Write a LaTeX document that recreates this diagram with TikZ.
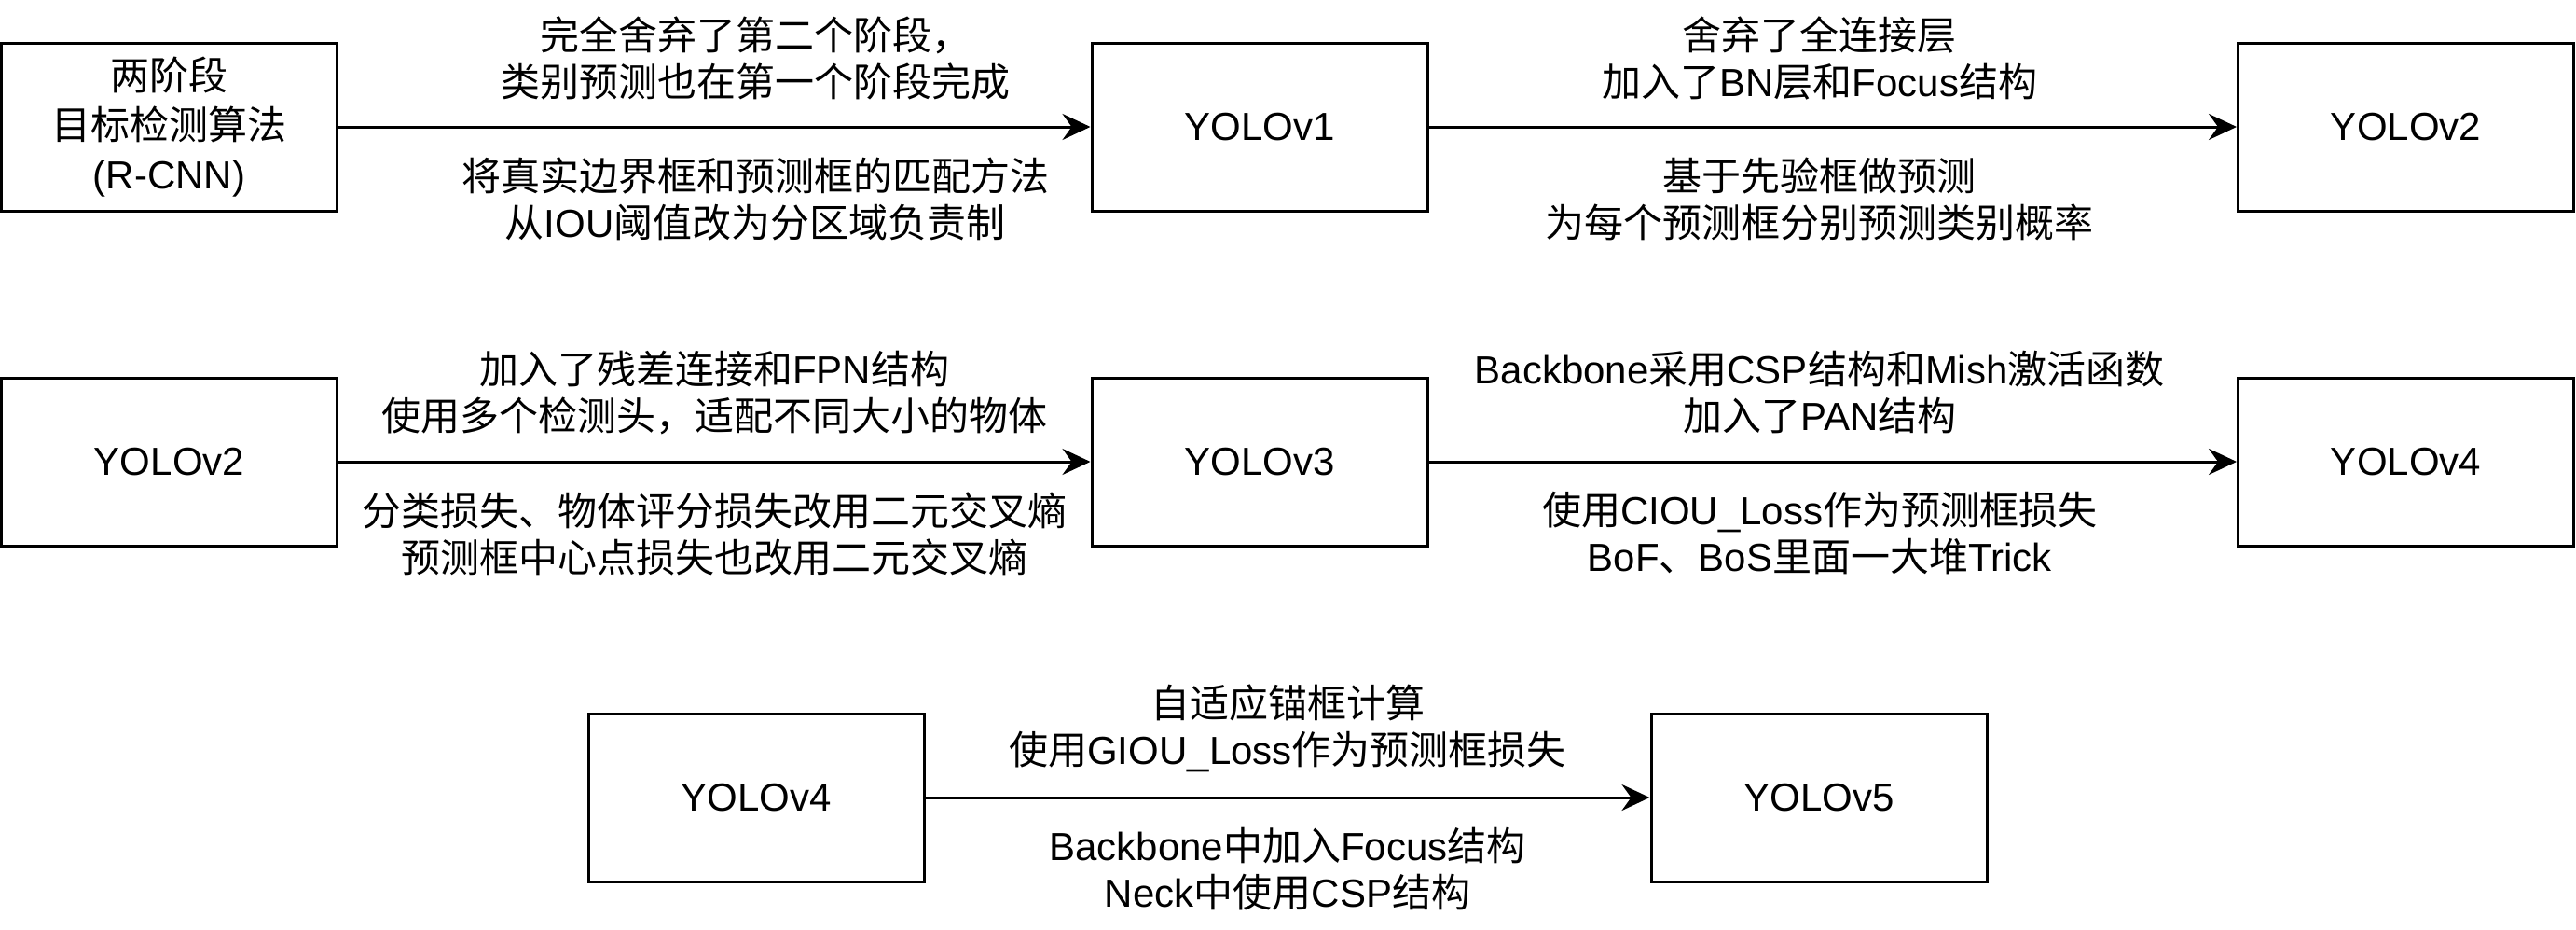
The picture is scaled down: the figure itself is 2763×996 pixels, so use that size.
\documentclass[tikz,border=0pt]{standalone}
\usepackage{fontspec}
\setmainfont{Liberation Sans}
\newfontfamily\zhfont{Noto Sans CJK SC}
\usetikzlibrary{arrows.meta}

% Chinese characters switch to the CJK font by themselves
\XeTeXinterchartokenstate=1
\newXeTeXintercharclass\zhclass
\newcount\zhc
\def\zhrange#1#2{\zhc=#1\relax\loop\XeTeXcharclass\zhc=\zhclass\ifnum\zhc<#2\advance\zhc by 1\repeat}
\zhrange{"3000}{"303F}
\zhrange{"4E00}{"9FFF}
\zhrange{"FF00}{"FFEF}
\XeTeXinterchartoks 0 \zhclass = {\zhfont}
\XeTeXinterchartoks 4095 \zhclass = {\zhfont}
\XeTeXinterchartoks \zhclass 0 = {\rmfamily}
\XeTeXinterchartoks \zhclass 4095 = {\rmfamily}

\tikzset{every picture/.style={line width=0.75pt}}
\tikzset{
  stage/.style={draw, minimum width=90pt, minimum height=45pt, inner sep=0pt, align=center},
  flow/.style={-{Stealth[length=7.5pt,width=7pt,inset=2.5pt]}},
  note/.style={align=center, inner sep=0pt},
}

\begin{document}
\begin{tikzpicture}[x=0.25pt,y=0.25pt,yscale=-1,xscale=1,font=\fontsize{10.5}{12.5}\selectfont]

\useasboundingbox (0,0) rectangle (2763,996);

% first row
\node [stage, font=\fontsize{10.5}{13.25}\selectfont] (rcnn) at (181.5,136) {两阶段\\目标检测算法\\(R-CNN)};
\node [stage] (v1) at (1351,136) {YOLOv1};
\node [stage] (v2) at (2580.5,136) {YOLOv2};

% second row
\node [stage] (v2b) at (181.5,495) {YOLOv2};
\node [stage] (v3) at (1351,495) {YOLOv3};
\node [stage] (v4) at (2580.5,495) {YOLOv4};

% third row
\node [stage] (v4b) at (811,855) {YOLOv4};
\node [stage] (v5) at (1951,855) {YOLOv5};

\draw [flow] (rcnn) -- (v1)
  node [note, midway, xshift=11pt, yshift=18.5pt] (t1) {完全舍弃了第二个阶段，\\类别预测也在第一个阶段完成}
  node [note, midway, xshift=11pt, yshift=-19.25pt] (b1) {将真实边界框和预测框的匹配方法\\从IOU阈值改为分区域负责制};
\draw [flow] (v1) -- (v2)
  node [note, midway, xshift=-3.5pt, yshift=18.5pt] (t2) {舍弃了全连接层\\加入了BN层和Focus结构}
  node [note, midway, xshift=-3.5pt, yshift=-19.25pt] (b2) {基于先验框做预测\\为每个预测框分别预测类别概率};
\draw [flow] (v2b) -- (v3)
  node [note, midway, yshift=18.5pt] (t3) {加入了残差连接和FPN结构\\使用多个检测头，适配不同大小的物体}
  node [note, midway, yshift=-19.25pt] (b3) {分类损失、物体评分损失改用二元交叉熵\\预测框中心点损失也改用二元交叉熵};
\draw [flow] (v3) -- (v4)
  node [note, midway, xshift=-3.5pt, yshift=18.5pt] (t4) {Backbone采用CSP结构和Mish激活函数\\加入了PAN结构}
  node [note, midway, xshift=-3.5pt, yshift=-19.25pt] (b4) {使用CIOU\_Loss作为预测框损失\\BoF、BoS里面一大堆Trick};
\draw [flow] (v4b) -- (v5)
  node [note, midway, yshift=18.5pt] (t5) {自适应锚框计算\\使用GIOU\_Loss作为预测框损失}
  node [note, midway, yshift=-19.25pt] (b5) {Backbone中加入Focus结构\\Neck中使用CSP结构};

\end{tikzpicture}
\end{document}
